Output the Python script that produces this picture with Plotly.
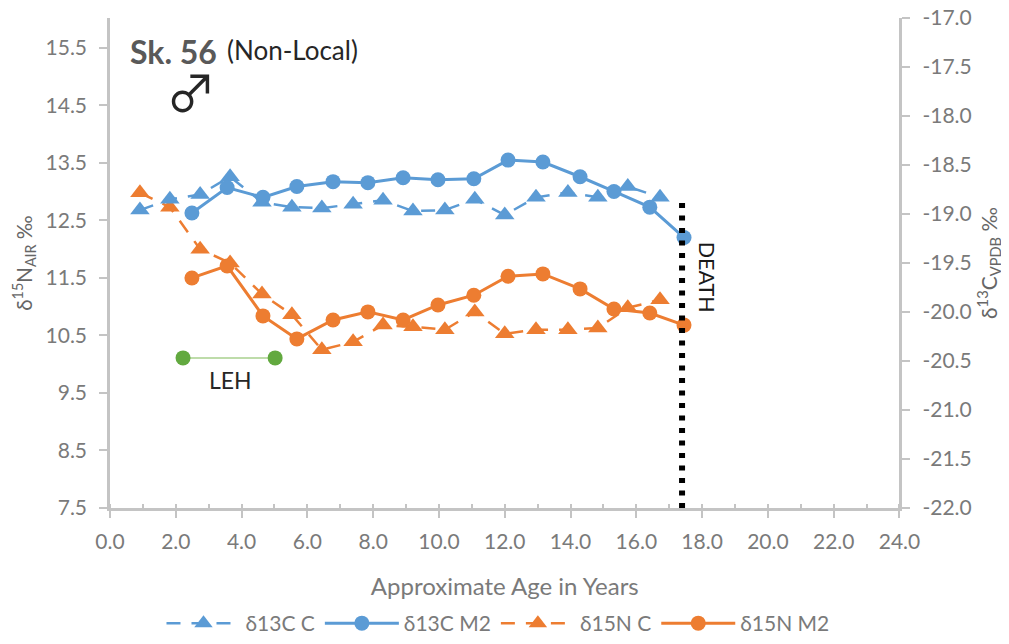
import plotly.graph_objects as go

age_c = [0.91, 1.82, 2.74, 3.65, 4.62, 5.53, 6.44, 7.39, 8.30, 9.21, 10.18, 11.09, 12.0, 12.95, 13.92, 14.83, 15.74, 16.72]
d13c_c = [-18.96, -18.85, -18.80, -18.62, -18.88, -18.93, -18.94, -18.90, -18.86, -18.97, -18.96, -18.85, -19.01, -18.83, -18.78, -18.83, -18.72, -18.83]
d15n_c = [12.98, 12.73, 12.0, 11.76, 11.22, 10.86, 10.25, 10.39, 10.68, 10.65, 10.6, 10.91, 10.53, 10.6, 10.6, 10.63, 10.98, 11.12]
age_m2 = [2.49, 3.56, 4.65, 5.68, 6.78, 7.84, 8.91, 9.97, 11.06, 12.1, 13.16, 14.29, 15.32, 16.41, 17.45]
d13c_m2 = [-18.99, -18.73, -18.83, -18.72, -18.67, -18.68, -18.63, -18.65, -18.64, -18.45, -18.47, -18.62, -18.77, -18.93, -19.24]
d15n_m2 = [11.5, 11.71, 10.84, 10.44, 10.77, 10.91, 10.77, 11.03, 11.2, 11.53, 11.57, 11.31, 10.96, 10.89, 10.68]
leh_x = [2.22, 5.02]
leh_y = [10.11, 10.11]
death_x = [17.39, 17.39]
death_y = [-22.0, -18.87]
right_ticks = [-22.0, -21.5, -21.0, -20.5, -20.0, -19.5, -19.0, -18.5, -18.0, -17.5, -17.0]
right_labels = ["-22.0", "-21.5", "-21.0", "-20.5", "-20.0", "-19.5", "-19.0", "-18.5", "-18.0", "-17.5", "-17.0"]

BLUE = "#5b9bd5"
ORANGE = "#ed7d31"
GREEN = "#62a93f"
AXIS = "#c4c4c4"
TICK = "#7a7a7a"
FONT = "Lato"
DASH = "14px,11px"
X_DOMAIN = [0.1019, 0.8906]
Y_DOMAIN = [0.21384, 0.98428]

fig = go.Figure()
fig.add_trace(go.Scatter(x=leh_x, y=leh_y, yaxis="y", mode="lines+markers", showlegend=False,
                         line=dict(color="#a9d18e", width=1.5), marker=dict(color=GREEN, size=15)))
fig.add_trace(go.Scatter(x=age_c, y=d13c_c, yaxis="y2", name="δ13C C", mode="lines+markers",
                         line=dict(color=BLUE, width=2.5, dash=DASH),
                         marker=dict(symbol="triangle-up", color=BLUE, size=17)))
fig.add_trace(go.Scatter(x=age_m2, y=d13c_m2, yaxis="y2", name="δ13C M2", mode="lines+markers",
                         line=dict(color=BLUE, width=3), marker=dict(color=BLUE, size=15)))
fig.add_trace(go.Scatter(x=age_c, y=d15n_c, yaxis="y", name="δ15N C", mode="lines+markers",
                         line=dict(color=ORANGE, width=2.5, dash=DASH),
                         marker=dict(symbol="triangle-up", color=ORANGE, size=17)))
fig.add_trace(go.Scatter(x=age_m2, y=d15n_m2, yaxis="y", name="δ15N M2", mode="lines+markers",
                         line=dict(color=ORANGE, width=3), marker=dict(color=ORANGE, size=15)))
fig.add_trace(go.Scatter(x=death_x, y=death_y, yaxis="y2", mode="lines", showlegend=False,
                         line=dict(color="black", width=6, dash="5px,7.5px")))

tickfont = dict(family=FONT, size=21, color=TICK)
fig.update_layout(
    width=1001, height=636,
    margin=dict(l=0, r=0, t=0, b=0),
    paper_bgcolor="white", plot_bgcolor="white",
    font=dict(family=FONT, color=TICK),
    xaxis=dict(domain=X_DOMAIN, range=[0, 24], tick0=0, dtick=2, tickformat=".1f", showgrid=False, zeroline=False, automargin=False,
               showline=True, linecolor=AXIS, linewidth=2.5, ticks="outside", ticklen=7, ticklabelstandoff=6,
               tickcolor=AXIS, tickwidth=1.5, tickfont=tickfont,
               minor=dict(dtick=1, ticks="inside", ticklen=4, tickcolor=AXIS, tickwidth=1.5),
               title=dict(text="Approximate Age in Years", font=dict(family=FONT, size=24, color=TICK), standoff=27)),
    yaxis=dict(domain=Y_DOMAIN, range=[7.5, 16.02], tick0=7.5, dtick=1, tickformat=".1f", showgrid=False, zeroline=False, automargin=False,
               showline=True, linecolor=AXIS, linewidth=2.5, ticks="outside", ticklen=8, ticklabelstandoff=8,
               tickcolor=AXIS, tickwidth=1.5, tickfont=tickfont,
               title=dict(text="δ<sup>15</sup>N<sub>AIR</sub> ‰", font=dict(family=FONT, size=20.5, color="#666666"), standoff=8)),
    yaxis2=dict(domain=Y_DOMAIN, range=[-22, -17], tickmode="array", tickvals=right_ticks, ticktext=right_labels, overlaying="y", side="right",
                showgrid=False, zeroline=False, automargin=False, showline=True, linecolor=AXIS, linewidth=2.5,
                ticks="outside", ticklen=8, ticklabelstandoff=8, ticklabeloverflow="allow", tickcolor=AXIS, tickwidth=1.5, tickfont=tickfont,
                title=dict(text="δ<sup>13</sup>C<sub>VPDB</sub> ‰", font=dict(family=FONT, size=21, color="#666666"), standoff=12)),
    legend=dict(orientation="h", x=0.4895, xanchor="center", y=0, yanchor="bottom",
                itemwidth=74, font=dict(family=FONT, size=21, color=TICK), bgcolor="rgba(0,0,0,0)"),
    annotations=[
        dict(text="<b>Sk. 56</b>", x=0.55, y=15.43, xref="x", yref="y", xanchor="left", showarrow=False,
             font=dict(family=FONT, size=32, color="#595959")),
        dict(text="(Non-Local)", x=3.5, y=15.47, xref="x", yref="y", xanchor="left", showarrow=False,
             font=dict(family=FONT, size=26, color="#262626")),
        dict(text="♂", x=2.46, y=14.77, xref="x", yref="y", showarrow=False,
             font=dict(family="Noto Sans CJK SC, DejaVu Sans", size=50, color="#262626")),
        dict(text="LEH", x=3.65, y=9.72, xref="x", yref="y", showarrow=False,
             font=dict(family=FONT, size=23, color="#262626")),
        dict(text="DEATH", x=18.15, y=11.52, xref="x", yref="y", showarrow=False, textangle=90,
             font=dict(family=FONT, size=21.5, color="#1a1a1a")),
    ],
)
fig.write_html("out.html")
